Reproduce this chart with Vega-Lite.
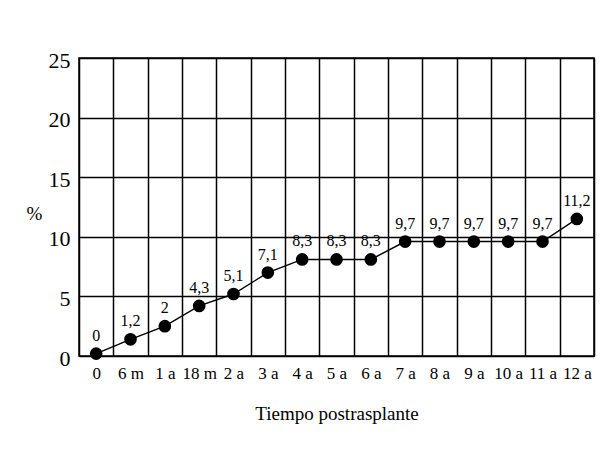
{
  "$schema": "https://vega.github.io/schema/vega-lite/v6.json",
  "width": 515,
  "height": 298,
  "autosize": {"type": "none"},
  "padding": {"left": 79, "top": 58, "right": 12, "bottom": 100},
  "background": "white",
  "config": {
    "view": {"stroke": "#000", "strokeWidth": 1.5},
    "font": "Liberation Serif"
  },
  "data": {
    "values": [
      {"t": "0", "v": 0.2, "label": "0"},
      {"t": "6 m", "v": 1.4, "label": "1,2"},
      {"t": "1 a", "v": 2.5, "label": "2"},
      {"t": "18 m", "v": 4.2, "label": "4,3"},
      {"t": "2 a", "v": 5.2, "label": "5,1"},
      {"t": "3 a", "v": 7.0, "label": "7,1"},
      {"t": "4 a", "v": 8.1, "label": "8,3"},
      {"t": "5 a", "v": 8.1, "label": "8,3"},
      {"t": "6 a", "v": 8.1, "label": "8,3"},
      {"t": "7 a", "v": 9.6, "label": "9,7"},
      {"t": "8 a", "v": 9.6, "label": "9,7"},
      {"t": "9 a", "v": 9.6, "label": "9,7"},
      {"t": "10 a", "v": 9.6, "label": "9,7"},
      {"t": "11 a", "v": 9.6, "label": "9,7"},
      {"t": "12 a", "v": 11.5, "label": "11,2"}
    ]
  },
  "encoding": {
    "x": {
      "field": "t",
      "type": "ordinal",
      "sort": null,
      "scale": {"paddingInner": 0, "paddingOuter": 0},
      "axis": {
        "title": "Tiempo postrasplante",
        "labelAngle": 0,
        "labelFont": "Liberation Serif",
        "labelFontSize": 17,
        "labelColor": "#000",
        "labelPadding": 9,
        "tickSize": 0,
        "tickBand": "extent",
        "domain": false,
        "grid": true,
        "gridColor": "#000",
        "gridWidth": 1.5,
        "gridOpacity": 1,
        "titleFont": "Liberation Serif",
        "titleFontSize": 19,
        "titleFontWeight": "normal",
        "titleColor": "#000",
        "titleY": 57,
        "titleBaseline": "middle"
      }
    },
    "y": {
      "field": "v",
      "type": "quantitative",
      "scale": {"domain": [0, 25], "nice": false},
      "axis": {
        "title": "%",
        "values": [0, 5, 10, 15, 20, 25],
        "labelFont": "Liberation Serif",
        "labelFontSize": 22,
        "labelColor": "#000",
        "labelPadding": 9,
        "labelOffset": 2,
        "tickSize": 0,
        "domain": false,
        "grid": true,
        "gridColor": "#000",
        "gridWidth": 1.5,
        "gridOpacity": 1,
        "titleFont": "Liberation Serif",
        "titleFontSize": 19,
        "titleFontWeight": "normal",
        "titleColor": "#000",
        "titleAngle": 0,
        "titleX": -45,
        "titleY": 155,
        "titleAlign": "center",
        "titleBaseline": "middle"
      }
    }
  },
  "layer": [
    {"mark": {"type": "line", "color": "#000", "strokeWidth": 1.4}},
    {"mark": {"type": "point", "filled": true, "color": "#000", "opacity": 1, "size": 160}},
    {
      "mark": {"type": "text", "dy": -18, "baseline": "middle", "font": "Liberation Serif", "fontSize": 16, "color": "#000"},
      "encoding": {"text": {"field": "label"}}
    }
  ]
}
